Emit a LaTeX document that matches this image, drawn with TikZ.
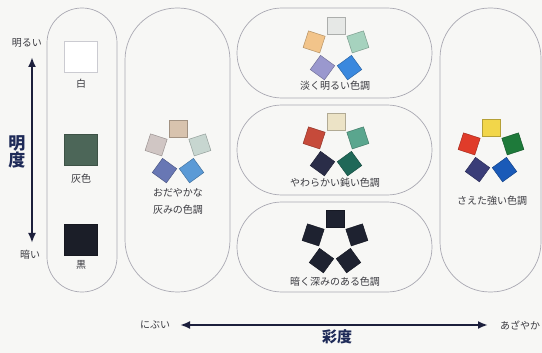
\documentclass[tikz,border=0pt]{standalone}
\usepackage{fontspec}
\newfontfamily\jp{Noto Sans CJK JP}
\usetikzlibrary{positioning,arrows.meta}

\definecolor{paper}{HTML}{F7F7F5}
\definecolor{pillgray}{HTML}{A9A8B2}
\definecolor{txtgray}{HTML}{3A3A40}
\definecolor{axisnavy}{HTML}{1C1F3C}
\definecolor{headnavy}{HTML}{1E2A58}
% left column
\definecolor{greytile}{HTML}{4C6658}
\definecolor{blacktile}{HTML}{1B1E28}
% おだやか
\definecolor{gA}{HTML}{D8C3AE}\definecolor{gB}{HTML}{D0C6C4}\definecolor{gC}{HTML}{C7D6D0}
\definecolor{gD}{HTML}{6877B4}\definecolor{gE}{HTML}{5B9AD6}
% 淡く明るい
\definecolor{pA}{HTML}{E6E8E6}\definecolor{pB}{HTML}{F2C48A}\definecolor{pC}{HTML}{A6D2BE}
\definecolor{pD}{HTML}{9A98CE}\definecolor{pE}{HTML}{3A88DE}
% やわらかい鈍い
\definecolor{dA}{HTML}{ECE3C6}\definecolor{dB}{HTML}{C64A3A}\definecolor{dC}{HTML}{5AA68E}
\definecolor{dD}{HTML}{2A2D48}\definecolor{dE}{HTML}{1F6858}
% 暗く深み
\definecolor{kA}{HTML}{1E2230}
% さえた強い
\definecolor{vA}{HTML}{F2D64A}\definecolor{vB}{HTML}{E03C2A}\definecolor{vC}{HTML}{1E7A3A}
\definecolor{vD}{HTML}{3A3D78}\definecolor{vE}{HTML}{1A5AB8}

\tikzset{
  pill/.style={draw=pillgray, line width=0.7pt},
  tile/.style={minimum size=17.5pt, inner sep=0pt, fill=#1, draw=#1!75!black, line width=0.5pt},
  swatch/.style={minimum width=33pt, minimum height=31pt, inner sep=0pt, fill=#1, draw=#1!80!black, line width=0.5pt},
  lbl/.style={font=\jp\fontsize{10}{17}\selectfont, text=txtgray, inner sep=0pt},
  axislbl/.style={font=\jp\bfseries\fontsize{#1}{#1}\selectfont, text=headnavy, inner sep=0pt},
  axis/.style={line width=2.3pt, draw=axisnavy, {Latex[length=10pt,width=8pt]}-{Latex[length=10pt,width=8pt]}},
}

% five tiles on a pentagon: name, cx, cy, colours (top, upper left, lower left, lower right, upper right)
\newcommand\tonestar[4]{%
  \foreach \col [count=\i] in {#4} {
    \pgfmathsetmacro\ang{90+72*(\i-1)}
    \node[tile=\col, rotate=\ang-90] (#1-\i) at ({#2+23*cos(\ang)},{#3-23*sin(\ang)}) {};
  }%
}

\begin{document}
\begin{tikzpicture}[x=1pt,y=-1pt]
  \fill[paper] (0,0) rectangle (542,353);
  \useasboundingbox (0,0) rectangle (542,353);

  % rounded panels
  \draw[pill, rounded corners=34.9pt] (47,8) rectangle (117,292);
  \draw[pill, rounded corners=52pt] (125,8) rectangle (230,292);
  \draw[pill, rounded corners=44.9pt] (237,8) rectangle (432,98);
  \draw[pill, rounded corners=44.9pt] (237,105) rectangle (432,195);
  \draw[pill, rounded corners=44.9pt] (237,202) rectangle (432,292);
  \draw[pill, rounded corners=50pt] (440,8) rectangle (541,292);

  % lightness axis
  \coordinate (top) at (32,57);
  \coordinate (bottom) at (32,243);
  \draw[axis] (top) -- (bottom);
  \node[lbl] (light) at (27,43) {明るい};
  \node[lbl] (dark) at (30,255) {暗い};
  \node[axislbl=17, align=center] (lightness) at (17,152) {明\\[0pt]度};

  % achromatic swatches
  \node[swatch=white, draw=pillgray!60] (white) at (81,57) {};
  \node[lbl, below=6pt of white] (whitelbl) {白};
  \node[swatch=greytile] (grey) at (81,150) {};
  \node[lbl, below=8pt of grey] (greylbl) {灰色};
  \node[swatch=blacktile] (black) at (81,240) {};
  \node[lbl, below=5pt of black] (blacklbl) {黒};

  % tone groups
  \tonestar{grayish}{178}{152}{gA,gB,gD,gE,gC}
  \node[lbl, align=center] (grayishlbl) at (178,201) {おだやかな\\灰みの色調};

  \tonestar{pale}{336}{49}{pA,pB,pD,pE,pC}
  \node[lbl] (palelbl) at (335,86) {淡く明るい色調};

  \tonestar{dull}{336}{145}{dA,dB,dD,dE,dC}
  \node[lbl] (dulllbl) at (335,183) {やわらかい鈍い色調};

  \tonestar{deep}{335}{242}{kA,kA,kA,kA,kA}
  \node[lbl] (deeplbl) at (335,282) {暗く深みのある色調};

  \tonestar{vivid}{491}{151}{vA,vB,vD,vE,vC}
  \node[lbl] (vividlbl) at (492,201) {さえた強い色調};

  % chroma axis
  \coordinate (left) at (180,325);
  \coordinate (right) at (488,325);
  \draw[axis] (left) -- (right);
  \node[lbl] (dull) at (155,325) {にぶい};
  \node[lbl] (vivid) at (520,325) {あざやか};
  \node[axislbl=15] (chroma) at (337,337) {彩度};
\end{tikzpicture}
\end{document}
